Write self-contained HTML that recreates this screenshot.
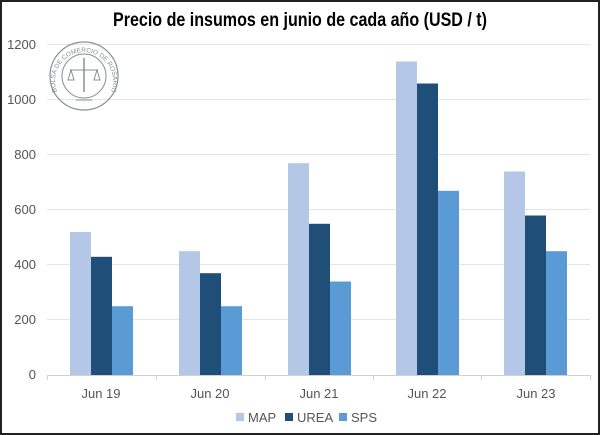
<!DOCTYPE html>
<html><head><meta charset="utf-8"><style>
html,body{margin:0;padding:0;background:#fff}
svg{display:block}
</style></head><body>
<svg width="600" height="435" xmlns="http://www.w3.org/2000/svg" font-family="Liberation Sans, sans-serif">
<rect x="1" y="1" width="598" height="433" fill="#fff" stroke="#222" stroke-width="2"/>
<text x="300" y="26" text-anchor="middle" font-family="Liberation Sans Narrow, Liberation Sans, sans-serif" font-weight="bold" font-size="19" fill="#000" textLength="374" lengthAdjust="spacingAndGlyphs">Precio de insumos en junio de cada año (USD / t)</text>
<g stroke="#e4e4e4" stroke-width="1">
<line x1="47" x2="590" y1="44.5" y2="44.5"/>
<line x1="47" x2="590" y1="99.5" y2="99.5"/>
<line x1="47" x2="590" y1="154.5" y2="154.5"/>
<line x1="47" x2="590" y1="209.5" y2="209.5"/>
<line x1="47" x2="590" y1="264.5" y2="264.5"/>
<line x1="47" x2="590" y1="319.5" y2="319.5"/>
</g>
<g font-size="13" fill="#555" text-anchor="end">
<text x="36" y="49">1200</text><text x="36" y="104">1000</text><text x="36" y="159">800</text>
<text x="36" y="214">600</text><text x="36" y="269">400</text><text x="36" y="324">200</text><text x="36" y="379">0</text>
</g>
<g id="bars"></g>
<g>
<!-- Jun19 -->
<rect x="70" y="232" width="21" height="143" fill="#b4c7e7"/>
<rect x="91" y="256.8" width="21" height="118.2" fill="#1f4e79"/>
<rect x="112" y="306.2" width="21" height="68.8" fill="#5b9bd5"/>
<!-- Jun20 -->
<rect x="179" y="251.2" width="21" height="123.8" fill="#b4c7e7"/>
<rect x="200" y="273.2" width="21" height="101.8" fill="#1f4e79"/>
<rect x="221" y="306.2" width="21" height="68.8" fill="#5b9bd5"/>
<!-- Jun21 -->
<rect x="288" y="163.2" width="21" height="211.8" fill="#b4c7e7"/>
<rect x="309" y="223.8" width="21" height="151.2" fill="#1f4e79"/>
<rect x="330" y="281.5" width="21" height="93.5" fill="#5b9bd5"/>
<!-- Jun22 -->
<rect x="396" y="61.5" width="21" height="313.5" fill="#b4c7e7"/>
<rect x="417" y="83.5" width="21" height="291.5" fill="#1f4e79"/>
<rect x="438" y="190.8" width="21" height="184.2" fill="#5b9bd5"/>
<!-- Jun23 -->
<rect x="504" y="171.5" width="21" height="203.5" fill="#b4c7e7"/>
<rect x="525" y="215.5" width="21" height="159.5" fill="#1f4e79"/>
<rect x="546" y="251.2" width="21" height="123.8" fill="#5b9bd5"/>
</g>
<g stroke="#d0d0d0" stroke-width="1">
<line x1="47" x2="590" y1="375.5" y2="375.5"/>
<line x1="47.5" x2="47.5" y1="375" y2="380"/>
<line x1="156.5" x2="156.5" y1="375" y2="380"/>
<line x1="265.5" x2="265.5" y1="375" y2="380"/>
<line x1="373.5" x2="373.5" y1="375" y2="380"/>
<line x1="481.5" x2="481.5" y1="375" y2="380"/>
<line x1="590.5" x2="590.5" y1="375" y2="380"/>
</g>
<g font-size="13" fill="#555" text-anchor="middle">
<text x="101" y="398">Jun 19</text><text x="210" y="398">Jun 20</text><text x="319" y="398">Jun 21</text>
<text x="427" y="398">Jun 22</text><text x="536" y="398">Jun 23</text>
</g>
<g font-size="13" fill="#555">
<rect x="236" y="413" width="8" height="8" fill="#b4c7e7"/><text x="248" y="422">MAP</text>
<rect x="285" y="413" width="8" height="8" fill="#1f4e79"/><text x="297" y="422">UREA</text>
<rect x="339" y="413" width="8" height="8" fill="#5b9bd5"/><text x="351" y="422">SPS</text>
</g>
<g fill="none" stroke="#8a8f99">
<circle cx="84" cy="76" r="34" stroke-width="1.2"/>
<circle cx="84" cy="76" r="22" stroke-width="1"/>
<line x1="84" y1="58" x2="84" y2="92" stroke-width="1.5"/>
<line x1="70" y1="70" x2="98" y2="70"/>
<path d="M68 80 l3 -10 l3 10 z M94 80 l3 -10 l3 10 z"/>
<line x1="76" y1="100" x2="92" y2="100"/>
</g>
<text font-size="6.5" fill="#8a8f99" text-anchor="middle"><textPath href="#lc" startOffset="50%">BOLSA DE COMERCIO DE ROSARIO</textPath></text>
<defs><path id="lc" d="M62 100 A29 29 0 1 1 106 100"/></defs>
</svg>
</body></html>
